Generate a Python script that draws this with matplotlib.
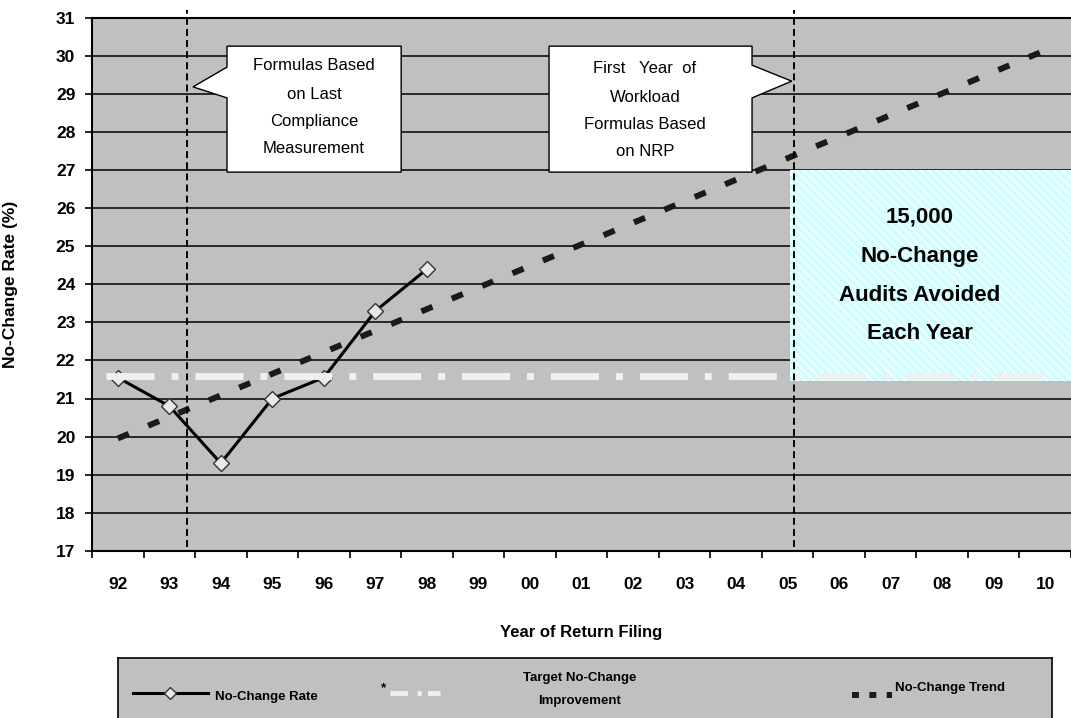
import numpy as np
import matplotlib
matplotlib.use('Agg')
from matplotlib import pyplot as plt
from matplotlib.patches import Rectangle, Polygon

plt.rcParams['font.family'] = ['Liberation Sans', 'DejaVu Sans']
plt.rcParams['lines.scale_dashes'] = False
plt.rcParams['hatch.color'] = 'white'
plt.rcParams['hatch.linewidth'] = 1.3

# data
years = ['92', '93', '94', '95', '96', '97', '98', '99', '00', '01',
         '02', '03', '04', '05', '06', '07', '08', '09', '10']
rate_years = ['92', '93', '94', '95', '96', '97', '98']
rate_vals = [21.55, 20.8, 19.3, 21.0, 21.55, 23.3, 24.4]
trend_years = ['92', '10']
trend_vals = [19.95, 30.15]
target_years = ['92', '10']
target_vals = [21.6, 21.6]
avoided_box = (13.05, 21.45, 27.0)   # x start, y bottom, y top
avoided_text = ['15,000', 'No-Change', 'Audits Avoided', 'Each Year']
marker_lines = [1.34, 13.12]          # "formula change" vertical lines
callout1 = ['Formulas Based', 'on Last', 'Compliance', 'Measurement']
callout2 = ['First   Year  of', 'Workload', 'Formulas Based', 'on NRP']

pos = {y: i for i, y in enumerate(years)}
W, H = 1071, 718
GRAY = '#c0c0c0'

fig = plt.figure(figsize=(W / 100, H / 100), dpi=100)
ax = fig.add_axes([92 / W, 1 - 550.7 / H, (W - 92) / W, (550.7 - 18) / H])
ax.set_facecolor(GRAY)
ax.set_xlim(-0.5, len(years) - 0.5)
ax.set_ylim(17, 31)

# grid + axes
ax.set_yticks(np.arange(17, 32))
ax.yaxis.grid(True, color='black', lw=1.1)
ax.set_axisbelow(True)
ax.set_xticks(np.arange(-0.5, len(years)))
ax.set_xticklabels([])
ax.set_xticks(np.arange(len(years)), minor=True)
ax.set_xticklabels(years, minor=True)
ax.tick_params(axis='x', which='major', direction='out', length=5, width=1.2)
ax.tick_params(axis='x', which='minor', length=0, pad=19, labelsize=12.5)
ax.tick_params(axis='y', direction='out', length=5, width=1.2, pad=7, labelsize=12.5)
for lab in ax.get_xticklabels(minor=True) + ax.get_yticklabels():
    lab.set_fontweight('bold')
for s in ['left', 'bottom', 'top']:
    ax.spines[s].set_linewidth(1.5)
ax.spines['right'].set_visible(False)

ax.set_ylabel('No-Change Rate (%)', fontsize=12.5, fontweight='bold')
ax.yaxis.set_label_coords(-(92 - 18) / (W - 92), 0.5)
ax.set_xlabel('Year of Return Filing', fontsize=12, fontweight='bold')
ax.xaxis.set_label_coords(0.5, -(625 - 550.7) / (550.7 - 18))

# hatched "audits avoided" region
x0, yb, yt = avoided_box
ax.add_patch(Rectangle((x0, yb), len(years) - 0.5 - x0, yt - yb,
                       facecolor='#ccffff', hatch='\\\\\\\\', edgecolor='white',
                       lw=0, zorder=1.5))
for t, yv in zip(avoided_text, [25.77, 24.74, 23.72, 22.72]):
    ax.text(15.57, yv, t, ha='center', va='center', fontsize=16,
            fontweight='bold', zorder=7)

# series
rx = [pos[y] for y in rate_years]
ax.plot(rx, rate_vals, color='black', lw=2.2, marker='D', markersize=8,
        markerfacecolor='#e8e8e8', markeredgecolor='#333333',
        markeredgewidth=1.0, zorder=3)
tx = [pos[y] for y in target_years]
ax.plot([tx[0] - 0.23, tx[1] + 0.09], target_vals, color='#f0f0f0', lw=5,
        dashes=(34.6, 12.2, 5.0, 12.2), solid_capstyle='butt',
        dash_capstyle='butt', zorder=4)
trx = [pos[y] for y in trend_years]
ax.plot(trx, trend_vals, color='#1a1a1a', lw=4.3, dashes=(8.6, 15.1),
        dash_capstyle='butt', zorder=5)

for xv in marker_lines:
    ax.plot([xv, xv], [17.1, 31.2], color='black', lw=1.4, dashes=(5, 3),
            clip_on=False, zorder=6)

# callouts
def callout(xl, xr, ytop, ybot, side, b_hi, b_lo, tip, lines, tx_c, ys):
    if side == 'left':
        pts = [(xl, ytop), (xr, ytop), (xr, ybot), (xl, ybot),
               (xl, b_lo), tip, (xl, b_hi)]
    else:
        pts = [(xl, ytop), (xr, ytop), (xr, b_hi), tip, (xr, b_lo),
               (xr, ybot), (xl, ybot)]
    ax.add_patch(Polygon(pts, closed=True, facecolor='white',
                         edgecolor='black', lw=1.0, zorder=8))
    for t, yv in zip(lines, ys):
        ax.text(tx_c, yv, t, ha='center', va='center', fontsize=12, zorder=9)

callout(2.12, 5.5, 30.26, 26.95, 'left', 29.71, 28.90, (1.46, 29.19),
        callout1, 3.81, [29.76, 29.0, 28.29, 27.58])
callout(8.37, 12.31, 30.26, 26.95, 'right', 29.76, 28.90, (13.08, 29.34),
        callout2, 10.23, [29.66, 28.92, 28.21, 27.48])

# legend box drawn in pixel units
L, R, T = 118, 1052, 658
lax = fig.add_axes([L / W, -0.005, (R - L) / W, (H - T) / H + 0.005])
lax.set_xlim(L, R)
lax.set_ylim(H + 3, T)
lax.set_facecolor(GRAY)
lax.set_xticks([])
lax.set_yticks([])
for s in lax.spines.values():
    s.set_linewidth(1.2)
lax.plot([133, 208], [693, 693], color='black', lw=2.2)
lax.plot([170], [693], marker='D', markersize=6, markerfacecolor='#e8e8e8',
         markeredgecolor='#333333', markeredgewidth=1.0)
lax.text(215, 697, 'No-Change Rate', fontsize=9.5, fontweight='bold', va='center')
lax.text(383, 688, '*', fontsize=9.5, fontweight='bold', va='center', ha='center')
lax.plot([390, 440], [693, 693], color='#f0f0f0', lw=3.5,
         dashes=(12.5, 7, 3, 4.5), dash_capstyle='butt')
lax.text(580, 678, 'Target No-Change', fontsize=9.5, fontweight='bold',
         va='center', ha='center')
lax.text(580, 701, 'Improvement', fontsize=9.5, fontweight='bold',
         va='center', ha='center')
lax.plot([852, 892], [695, 695], color='#1a1a1a', lw=4.3, dashes=(5, 7.5),
         dash_capstyle='butt')
lax.text(895, 688, 'No-Change Trend', fontsize=9.5, fontweight='bold', va='center')

fig.savefig('out.png', dpi=100)
